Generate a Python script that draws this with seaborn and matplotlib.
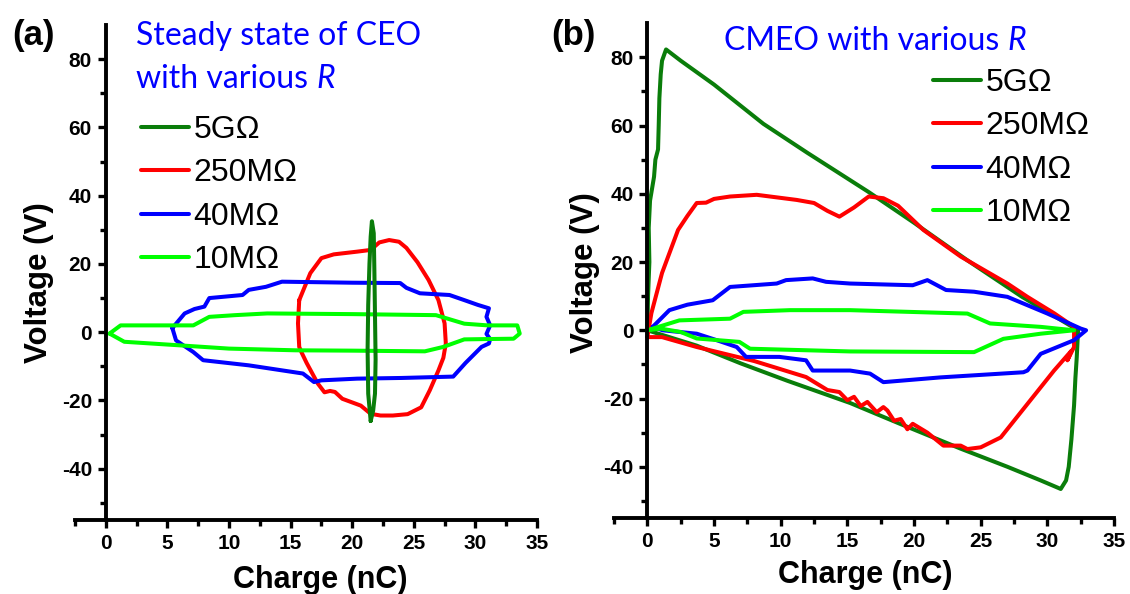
import matplotlib
matplotlib.use("Agg")
import matplotlib.pyplot as plt
import numpy as np
import seaborn as sns

# ---- (a) steady state of CEO ----
a_5g_x = [21.5, 21.3, 21.25, 21.3, 21.4, 21.5, 21.6, 21.75, 21.8, 21.85, 21.9, 21.85, 21.7, 21.5]
a_5g_y = [-26, -18, -5, 8, 20, 28, 32.5, 29, 18, 5, -8, -18, -23, -26]

a_250m_x = [15.7, 16.6, 17.5, 18.5, 20.4, 21.5, 22.2, 23.0, 23.8, 24.4, 25.3, 26.2, 27.0, 27.5, 27.6,
            27.4, 27.0, 26.3, 25.6, 24.5, 23.3, 22.3, 21.5, 20.7, 19.8, 19.2, 18.6, 18.2, 17.75, 17.2,
            16.3, 15.9, 15.7, 15.6, 15.7]
a_250m_y = [9.4, 17.3, 21.7, 22.8, 23.6, 24.1, 26.3, 27.0, 26.5, 24.7, 20.5, 15.3, 9.4, 2.6, -3.3,
            -7.5, -11.2, -17.0, -22.0, -24.0, -24.4, -24.4, -23.9, -21.5, -20.3, -19.5, -17.5, -17.2, -17.6, -15.0,
            -9.0, -6.0, -4.3, 2.6, 9.4]

a_40m_x = [5.4, 6.4, 7.2, 8.0, 8.4, 11.1, 11.6, 13.0, 14.3, 20.0, 23.9, 24.4, 25.5, 27.9, 29.1, 30.2,
           31.1, 30.9, 31.2, 30.9, 31.2, 31.1, 30.5, 29.2, 28.2, 24.0, 20.4, 17.5, 16.9, 16.0, 11.6,
           7.9, 7.1, 5.7, 5.4]
a_40m_y = [1.2, 5.5, 6.8, 7.5, 10.0, 10.9, 12.4, 13.3, 14.8, 14.5, 14.4, 13.0, 11.4, 10.9, 9.4, 8.0,
           7.0, 4.5, 2.0, -0.5, -2.0, -3.3, -4.3, -9.0, -13.0, -13.4, -13.6, -14.1, -14.6, -12.1, -9.7,
           -8.2, -5.8, -2.4, 1.2]

a_10m_x = [0.3, 1.2, 4.0, 7.1, 8.4, 10.5, 13.1, 20.0, 26.8, 29.1, 31.0, 33.4, 33.6, 33.1, 31.0,
           29.1, 27.4, 25.9, 20.0, 15.4, 10.0, 5.8, 1.5, 0.3]
a_10m_y = [-0.4, 2.0, 2.0, 2.0, 4.5, 5.0, 5.5, 5.3, 5.0, 2.5, 2.0, 2.0, -0.4, -1.9, -2.0,
           -2.1, -4.3, -5.6, -5.4, -5.3, -4.8, -3.8, -2.8, -0.4]

# ---- (b) CMEO ----
b_5g_x = [0.0, 0.05, 0.15, 0.1, 0.2, 0.5, 0.6, 0.8, 0.85, 0.9, 1.0, 1.1, 1.4, 2.5, 5.0, 8.7, 12.0,
          16.6, 20.0, 24.0, 28.1, 32.3, 32.2, 32.1, 32.0, 31.8, 31.6, 31.4, 31.0, 29.5, 27.0, 23.5,
          19.0, 15.2, 10.5, 7.0, 3.7, 0.0]
b_5g_y = [0.0, 10, 20, 30, 38, 45, 50, 53, 60, 68, 75, 79, 82.3, 79, 72, 60.5, 52,
          40.5, 31.5, 20.5, 9.8, 0.0, -8, -14, -22, -32, -40, -44, -46.5, -44, -40, -34.7,
          -27.5, -21.3, -14.8, -9.7, -4.5, 0.0]

b_250m_x = [0.0, 0.3, 1.1, 2.3, 3.0, 3.7, 4.4, 5.0, 6.2, 8.2, 11.2, 12.5, 13.5, 14.4, 15.5, 16.6,
            17.7, 18.8, 20.7, 23.5, 27.0, 28.5, 30.5, 32.0, 32.0, 31.5, 31.8, 30.5, 28.5, 26.5, 25.0,
            24.0, 23.5, 22.2, 21.0, 19.9, 19.5, 19.0, 18.5, 18.0, 17.7, 17.2, 16.5, 16.0, 15.5, 15.0,
            14.4, 13.5, 11.9, 8.0, 3.7, 1.1, 0.0]
b_250m_y = [-2.0, 5.0, 16.8, 29.4, 33.5, 37.3, 37.4, 38.5, 39.2, 39.7, 38.2, 37.3, 35.0, 33.3, 36.0, 39.2,
            38.7, 36.5, 29.4, 21.6, 13.7, 9.8, 5.0, 1.0, -4.9, -8.8, -6.0, -11.8, -21.6, -31.4, -34.3,
            -34.8, -33.8, -33.8, -30.0, -27.4, -29.0, -26.0, -26.5, -23.5, -22.5, -24.0, -21.0, -22.2, -19.5, -20.5,
            -18.1, -17.5, -13.7, -9.0, -4.9, -2.0, -2.0]

b_40m_x = [0.4, 1.65, 3.0, 4.9, 6.2, 9.7, 10.4, 12.4, 13.4, 15.2, 19.9, 21.0, 22.4, 24.5, 27.0, 30.0,
           32.5, 32.9, 32.0, 29.5, 28.5, 28.2, 22.0, 17.7, 16.7, 15.2, 12.4, 11.9, 9.9, 7.4, 6.7, 5.2,
           3.7, 1.15, 0.4]
b_40m_y = [1.0, 5.9, 7.5, 8.8, 12.7, 13.7, 14.7, 15.2, 14.2, 13.7, 13.2, 14.7, 11.8, 11.3, 9.8, 4.9,
           0.5, 0.0, -2.9, -6.9, -11.8, -12.3, -13.8, -15.2, -12.7, -11.8, -11.8, -8.8, -7.8, -7.8, -4.9, -2.9,
           -1.0, 0.0, 1.0]

b_10m_x = [0.0, 2.4, 6.2, 7.2, 10.7, 15.2, 24.0, 25.7, 29.5, 32.0, 29.5, 26.7, 24.5, 15.2, 7.7, 6.9,
           3.7, 2.5, 1.0, 0.0]
b_10m_y = [0.0, 2.9, 3.4, 5.4, 5.9, 5.9, 4.9, 2.0, 1.0, 0.0, -1.0, -2.5, -6.4, -6.2, -5.4, -3.4,
           -2.4, -0.5, 0.5, 0.0]

labels = ["5G\u03a9", "250M\u03a9", "40M\u03a9", "10M\u03a9"]
colors = {"5G\u03a9": "#0a7d0a", "250M\u03a9": "#ff0000", "40M\u03a9": "#0000ff", "10M\u03a9": "#00ff00"}

sns.set_style("ticks")
plt.rcParams["font.family"] = ["Liberation Sans", "DejaVu Sans"]
plt.rcParams["axes.unicode_minus"] = False
plt.rcParams.update({"text.color": "black", "axes.labelcolor": "black", "axes.edgecolor": "black",
                     "xtick.color": "black", "ytick.color": "black"})

fig = plt.figure(figsize=(11.3, 5.94), dpi=100)
axL = fig.add_axes([0.0664, 0.1246, 0.4088, 0.8334])
axR = fig.add_axes([0.5434, 0.128, 0.4425, 0.833])

lw = 2.9
# left: draw order red, blue, light green, dark green
left_series = [("250M\u03a9", a_250m_x, a_250m_y), ("40M\u03a9", a_40m_x, a_40m_y),
               ("10M\u03a9", a_10m_x, a_10m_y), ("5G\u03a9", a_5g_x, a_5g_y)]
right_series = [("5G\u03a9", b_5g_x, b_5g_y), ("250M\u03a9", b_250m_x, b_250m_y),
                ("40M\u03a9", b_40m_x, b_40m_y), ("10M\u03a9", b_10m_x, b_10m_y)]

for ax, series in [(axL, left_series), (axR, right_series)]:
    for name, xs, ys in series:
        sns.lineplot(x=xs, y=ys, sort=False, estimator=None, color=colors[name], lw=lw,
                     ax=ax, label=name, solid_joinstyle="round", solid_capstyle="round")

    ax.set_xlim(-2.5, 35)
    ax.set_ylim(-55, 90)
    ax.spines["top"].set_visible(False)
    ax.spines["right"].set_visible(False)
    ax.spines["left"].set_position(("data", 0))
    ax.spines["left"].set_linewidth(2.8)
    ax.spines["bottom"].set_linewidth(2.8)
    ax.set_xticks(np.arange(0, 36, 5))
    ax.set_xticks(np.arange(-2.5, 35, 5), minor=True)
    ax.set_yticks(np.arange(-40, 81, 20))
    ax.set_yticks(np.arange(-50, 90, 20), minor=True)
    ax.tick_params(which="major", direction="out", length=6, width=2.4, labelsize=15, pad=4,
                   colors="black")
    ax.tick_params(which="minor", direction="out", length=4, width=2.4, colors="black")
    for t in ax.get_xticklabels() + ax.get_yticklabels():
        t.set_fontweight("bold")
    ax.set_xlabel("Charge (nC)", fontsize=22, fontweight="bold", color="black")
    ax.set_ylabel("Voltage (V)", fontsize=22.5, fontweight="bold", color="black")

    handles, labs = ax.get_legend_handles_labels()
    order = [labs.index(l) for l in labels]
    leg = ax.legend([handles[i] for i in order], labels, frameon=False, fontsize=23,
                    handlelength=1.5, handletextpad=0.15, labelspacing=0.42, borderpad=0,
                    borderaxespad=0, loc="upper left")
    for txt in leg.get_texts():
        txt.set_color("black")

axL.xaxis.set_label_coords(0.53, -0.09)
axL.yaxis.set_label_coords(-0.045, 0.48)
axR.xaxis.set_label_coords(0.502, -0.085)
axR.yaxis.set_label_coords(-0.028, 0.495)

axL.get_legend().set_bbox_to_anchor((141 / 1130, 1 - 115 / 594), transform=fig.transFigure)
axR.get_legend().set_bbox_to_anchor((933 / 1130, 1 - 68 / 594), transform=fig.transFigure)

fig.text(12 / 1130, 1 - 36 / 594, "(a)", fontsize=25, fontweight="bold", va="center", color="black")
fig.text(551 / 1130, 1 - 36 / 594, "(b)", fontsize=25, fontweight="bold", va="center", color="black")

blue_font = ["Lato", "DejaVu Sans"]
fig.text(136 / 1130, 1 - 45 / 594, "Steady state of CEO", color="#0000ff", fontsize=23,
         family=blue_font, va="baseline")
t2 = fig.text(136 / 1130, 1 - 88 / 594, "with various ", color="#0000ff", fontsize=23,
              family=blue_font, va="baseline")
fig.canvas.draw()
axL.annotate("R", xy=(1, 0), xycoords=t2, color="#0000ff", fontsize=23, family=blue_font,
             style="italic", va="bottom", ha="left", annotation_clip=False)
t3 = fig.text(724 / 1130, 1 - 50 / 594, "CMEO with various ", color="#0000ff", fontsize=23,
              family=blue_font, va="baseline")
axR.annotate("R", xy=(1, 0), xycoords=t3, color="#0000ff", fontsize=23, family=blue_font,
             style="italic", va="bottom", ha="left", annotation_clip=False)

fig.savefig("out.png", dpi=100)
